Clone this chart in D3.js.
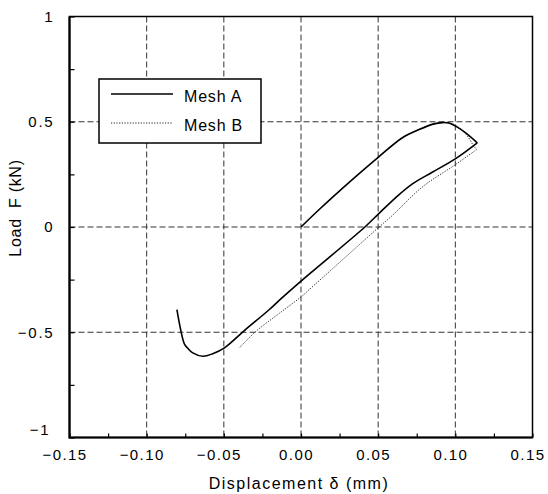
<!DOCTYPE html>
<html>
<head>
<meta charset="utf-8">
<script src="https://cdn.jsdelivr.net/npm/d3@7"></script>
<style>
  body { margin: 0; background: #fff; }
  text { font-family: Arial, "Liberation Sans", sans-serif; fill: #000; }
</style>
</head>
<body>
<div id="chart"></div>
<script>
// Load-displacement curves for two meshes

// Mesh A (solid line): displacement (mm) and load (kN)
const meshADisp = [0, 0.0118, 0.0334, 0.0502, 0.0657, 0.0765, 0.0862, 0.0915, 0.0959, 0.1002, 0.1067, 0.1142,
  0.1002, 0.085, 0.0722, 0.0614, 0.0506, 0.0414, 0.0, -0.0136, -0.0205, -0.0367, -0.0496, -0.0572, -0.0636,
  -0.0701, -0.0735, -0.0754, -0.0804];
const meshALoad = [0, 0.083, 0.226, 0.332, 0.424, 0.463, 0.490, 0.496, 0.494, 0.479, 0.447, 0.400,
  0.325, 0.26, 0.205, 0.14, 0.065, 0.0, -0.257, -0.345, -0.392, -0.492, -0.574, -0.602, -0.614,
  -0.598, -0.575, -0.558, -0.392];

// Mesh B (dotted line)
const meshBDisp = [0, 0.0118, 0.0334, 0.0502, 0.0657, 0.0765, 0.0862, 0.0915, 0.0959, 0.1005, 0.107, 0.112, 0.1138,
  0.1002, 0.0786, 0.0592, 0.0506, 0.0054, 0.0, -0.014, -0.0291, -0.0399];
const meshBLoad = [0, 0.083, 0.226, 0.332, 0.424, 0.463, 0.490, 0.496, 0.494, 0.482, 0.44, 0.384, 0.368,
  0.297, 0.19, 0.055, 0.0, -0.297, -0.332, -0.41, -0.495, -0.574];

// Ticks
const xTicks = [-0.15, -0.125, -0.10, -0.075, -0.05, -0.025, 0, 0.025, 0.05, 0.075, 0.10, 0.125, 0.15];
const xLabels = [-0.15, -0.10, -0.05, 0, 0.05, 0.10, 0.15];
const yTicks = [-1, -0.75, -0.5, -0.25, 0, 0.25, 0.5, 0.75, 1];
const yLabels = [-1, -0.5, 0, 0.5, 1];
const xGrid = [-0.10, -0.05, 0, 0.05, 0.10];
const yGrid = [-0.5, 0, 0.5];

const legendNames = ["Mesh A", "Mesh B"];

const W = 548, H = 494;
const plot = { left: 69.5, right: 532.5, top: 16.5, bottom: 437.5 };

var svg = d3.select("#chart")
  .append("svg")
  .attr("width", W)
  .attr("height", H);

var x = d3.scaleLinear().domain([-0.15, 0.15]).range([plot.left, plot.right]);
var y = d3.scaleLinear().domain([-1, 1]).range([plot.bottom, plot.top]);

// dashed grid
svg.selectAll(".xGrid")
  .data(xGrid)
  .enter().append("line")
  .attr("class", "xGrid")
  .attr("x1", d => x(d)).attr("x2", d => x(d))
  .attr("y1", plot.top).attr("y2", plot.bottom)
  .attr("stroke", "#333")
  .attr("stroke-width", 1)
  .attr("stroke-dasharray", "6,3");
svg.selectAll(".yGrid")
  .data(yGrid)
  .enter().append("line")
  .attr("class", "yGrid")
  .attr("x1", plot.left).attr("x2", plot.right)
  .attr("y1", d => y(d)).attr("y2", d => y(d))
  .attr("stroke", "#333")
  .attr("stroke-width", 1)
  .attr("stroke-dasharray", "6,3");

// axes with inward ticks
var fmtX = d3.format(".2f");
var fmtY = d3.format("~g");
var isLabel = (list, d) => list.some(v => Math.abs(v - d) < 1e-9);

var xAxis = d3.axisBottom(x)
  .tickValues(xTicks)
  .tickSize(-4)
  .tickPadding(12)
  .tickFormat(d => isLabel(xLabels, d) ? fmtX(d) : "");
var yAxis = d3.axisLeft(y)
  .tickValues(yTicks)
  .tickSize(-5)
  .tickPadding(15)
  .tickFormat(d => isLabel(yLabels, d) ? fmtY(d) : "");

var gx = svg.append("g")
  .attr("transform", "translate(0," + plot.bottom + ")")
  .call(xAxis);
var gy = svg.append("g")
  .attr("transform", "translate(" + plot.left + ",0)")
  .call(yAxis);

[gx, gy].forEach(g => {
  g.select(".domain").remove();
  g.selectAll(".tick line").attr("stroke", "#000").attr("stroke-width", 1.2);
  g.selectAll(".tick text")
    .attr("font-size", "15px")
    .attr("fill", "#000");
});
gx.selectAll(".tick text")
  .attr("letter-spacing", "1.4px")
  .attr("dx", -5);
gy.selectAll(".tick text")
  .attr("letter-spacing", "1.8px");
// the -1 label sits a little above its tick in the reference
gy.selectAll(".tick text")
  .filter(d => d === -1)
  .attr("dx", -4)
  .attr("dy", "-0.2em");

// frame
svg.append("rect")
  .attr("x", plot.left).attr("y", plot.top)
  .attr("width", plot.right - plot.left)
  .attr("height", plot.bottom - plot.top)
  .attr("fill", "none")
  .attr("stroke", "#000")
  .attr("stroke-width", 1.5);
svg.append("path")
  .attr("d", "M" + plot.left + "," + plot.top + "V" + plot.bottom + "H" + plot.right)
  .attr("fill", "none")
  .attr("stroke", "#000")
  .attr("stroke-width", 2.2);

// curves: smooth each branch, keep the sharp corner at the turning point
var line = d3.line()
  .x(d => x(d[0]))
  .y(d => y(d[1]))
  .curve(d3.curveCatmullRom.alpha(0.5));

function branches(disp, load) {
  var pts = d3.zip(disp, load);
  var tip = d3.maxIndex(disp);
  return [pts.slice(0, tip + 1), pts.slice(tip)];
}

svg.selectAll(".meshB")
  .data(branches(meshBDisp, meshBLoad))
  .enter().append("path")
  .attr("class", "meshB")
  .attr("d", line)
  .attr("fill", "none")
  .attr("stroke", "#222")
  .attr("stroke-width", 1)
  .attr("stroke-dasharray", "1.2,1.5");

svg.selectAll(".meshA")
  .data(branches(meshADisp, meshALoad))
  .enter().append("path")
  .attr("class", "meshA")
  .attr("d", line)
  .attr("fill", "none")
  .attr("stroke", "#000")
  .attr("stroke-width", 1.6)
  .attr("stroke-linejoin", "round");

// legend
var legend = svg.append("g");
legend.append("rect")
  .attr("x", 99).attr("y", 79)
  .attr("width", 162).attr("height", 64)
  .attr("fill", "#fff")
  .attr("stroke", "#000")
  .attr("stroke-width", 1.5);
legend.selectAll(".legLine")
  .data(legendNames)
  .enter().append("line")
  .attr("class", "legLine")
  .attr("x1", 111).attr("x2", 173)
  .attr("y1", (d, i) => 94 + i * 29)
  .attr("y2", (d, i) => 94 + i * 29)
  .attr("stroke", (d, i) => i === 0 ? "#000" : "#222")
  .attr("stroke-width", (d, i) => i === 0 ? 1.5 : 1)
  .attr("stroke-dasharray", (d, i) => i === 0 ? null : "1.2,1.5");
legend.selectAll(".legText")
  .data(legendNames)
  .enter().append("text")
  .attr("class", "legText")
  .attr("x", 184)
  .attr("y", (d, i) => 101.5 + i * 29.5)
  .attr("font-size", "16px")
  .attr("letter-spacing", "0.8px")
  .text(d => d);

// axis titles
svg.append("text")
  .attr("x", 299)
  .attr("y", 489)
  .attr("text-anchor", "middle")
  .attr("font-size", "16px")
  .attr("letter-spacing", "1.5px")
  .text("Displacement δ (mm)");

svg.append("text")
  .attr("transform", "translate(21,208) rotate(-90)")
  .attr("text-anchor", "middle")
  .attr("font-size", "16px")
  .attr("letter-spacing", "0.7px")
  .style("white-space", "pre")
  .text("Load  F (kN)");
</script>
</body>
</html>
